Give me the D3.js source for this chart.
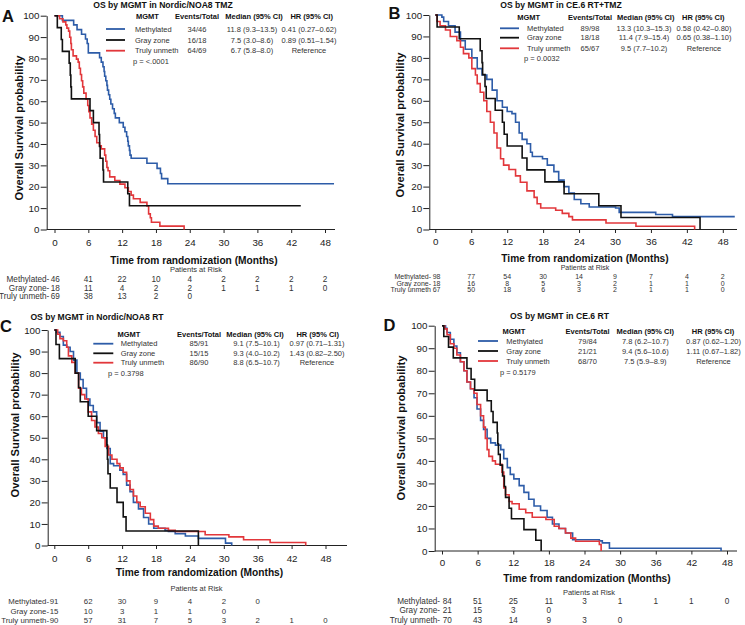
<!DOCTYPE html>
<html><head><meta charset="utf-8">
<script src="https://cdn.jsdelivr.net/npm/d3@7"></script>
<style>body{margin:0;background:#fff;} svg text{font-family:"Liberation Sans",Arial,Helvetica,sans-serif;}</style>
</head><body><svg id="c" width="745" height="625"></svg>
<script>
// ---------- DATA ----------
const months = [0,6,12,18,24,30,36,42,48];
const survTicks = [0,10,20,30,40,50,60,70,80,90,100];
const groups = ["Methylated","Gray zone","Truly unmeth"];

// Kaplan-Meier steps: [month, survival % after the step]
const A_meth = [[0,100],[1.4,97.8],[3.4,95.7],[4.0,93.5],[4.8,91.3],[5.5,89.1],[5.8,87],[6.0,82.6],[8.0,80.4],[8.3,78.3],[8.6,76.1],[8.8,73.9],[8.9,71.7],[9.1,69.6],[9.3,67.4],[9.4,65.2],[9.6,63],[9.8,60.9],[10.0,58.7],[10.3,56.5],[10.6,54.3],[10.8,52.2],[11.5,50],[12.2,47.8],[12.5,45.7],[12.8,43.5],[13.0,41.3],[13.1,39.1],[13.3,37],[13.4,34.8],[13.6,33.3],[16.4,31],[18.2,28.6],[18.8,26.2],[19.0,23.8],[20.1,21.4],[49.6,21.4]];
const A_gray = [[0,100],[0.5,94.4],[1.2,88.9],[1.4,83.3],[2.6,77.8],[2.8,72.2],[2.9,66.7],[3.0,61.1],[6.3,55.6],[6.9,50],[7.9,44.4],[8.0,38.9],[8.1,33.3],[8.6,27.8],[8.7,22.2],[13.0,16.7],[13.3,11.1],[43.7,11.1]];
const A_unmeth = [[0,100],[0.9,98.6],[1.5,97.1],[2.0,95.7],[2.2,94.2],[2.5,92.8],[2.7,89.9],[2.9,87],[3.0,84.1],[3.3,81.2],[3.9,79.7],[4.2,78.3],[4.4,75.4],[4.6,72.5],[4.8,69.6],[5.0,66.7],[5.2,63.8],[5.6,60.9],[5.9,58],[6.1,55.1],[6.3,52.2],[6.6,49.3],[6.9,46.4],[7.2,43.5],[7.5,40.6],[8.0,39.1],[8.3,37.7],[8.9,34.8],[9.1,31.9],[9.3,29],[9.5,27.5],[9.8,24.6],[10.7,22.9],[11.6,21.2],[12.5,19.5],[13.1,17.8],[13.6,16.1],[14.0,14.4],[15.2,12.7],[16.4,11],[16.7,7.3],[17.0,5.5],[17.2,3.4],[18.7,1.6],[23.0,0]];

const B_meth = [[0,100],[1.1,99],[1.4,97],[2.2,95],[3.3,92],[4.2,88],[5.0,84],[6.1,80],[7.0,75],[7.8,72],[8.6,70],[9.5,65],[10.3,60],[11.2,57],[12.0,55],[12.8,54],[13.4,50],[14.0,45],[14.5,42],[15.3,40],[15.9,36],[16.2,34],[17.9,33],[18.7,30],[19.8,27],[20.6,23],[21.5,20],[22.3,17],[23.2,14],[24.3,12],[25.7,10.5],[30.1,10],[30.7,8],[34.0,8],[36.8,7],[39.6,6],[50,6]];
const B_gray = [[0,100],[0.3,94.4],[4.0,88.9],[7.5,83.3],[7.8,77.8],[7.9,72.2],[8.3,66.7],[8.5,61.1],[10.0,55.6],[11.2,50],[11.5,44.4],[12.0,38.9],[14.5,33.3],[15.3,27.8],[18.3,22.2],[21.5,16.7],[27.3,11.1],[31.0,5.6],[44.2,0]];
const B_unmeth = [[0,100],[0.3,97],[0.8,95],[1.7,93],[2.5,90],[3.6,88],[4.2,85],[4.7,82],[5.6,80],[6.1,75],[6.7,72],[7.0,68],[7.5,64],[8.1,60],[8.6,55],[9.2,50],[9.8,45],[10.3,38],[10.9,33],[11.4,30],[12.3,28],[13.4,25],[14.2,22],[15.3,18],[16.5,15],[17.0,12],[17.6,10],[20.1,9],[21.2,7.5],[22.3,6],[22.9,4.5],[28.5,3],[33.5,1.5],[43.3,0]];

const C_meth = [[0,100],[0.4,98.9],[1.0,97],[1.6,93],[2.2,92],[2.8,90],[3.4,86],[4.0,80],[4.6,77],[5.1,73],[5.7,68],[6.3,65],[6.9,62],[7.5,57],[8.1,53],[8.7,50],[9.3,45],[9.9,38],[10.5,37],[11.6,35],[12.2,33],[12.8,28],[13.4,25],[14.0,20],[14.9,17],[15.8,13],[16.7,10],[17.6,8],[19.6,7],[20.2,6.5],[21.4,5.5],[23.2,4.4],[25.5,3.3],[30.3,1.1],[31.4,0]];
const C_gray = [[0,100],[0.3,93.3],[0.9,86.7],[3.7,80],[4.3,73.3],[4.6,66.7],[6.0,60],[7.5,53.3],[9.3,46.7],[9.4,40],[9.5,33.3],[9.9,26.7],[11.1,20],[12.2,13.3],[12.7,6.7],[25.5,0]];
const C_unmeth = [[0,100],[0.6,98],[1.0,96],[1.6,95],[2.2,92],[2.5,88],[3.1,85],[3.7,80],[4.3,73],[4.8,70],[5.4,68],[6.0,62],[6.6,58],[7.2,55],[7.8,52],[8.4,50],[9.0,46],[9.6,42],[10.2,40],[11.1,38],[11.6,36],[12.2,34],[12.8,30],[13.4,26],[14.0,23],[14.6,20],[15.2,18],[16.1,15],[17.0,12],[17.6,9],[18.4,8],[20.2,7],[21.4,6.5],[26.7,5],[30.9,4],[33.5,2.7],[38.2,1.4],[44.5,0]];

const D_meth = [[0,100],[0.6,98.8],[0.85,97],[1.4,94],[2.0,91],[2.5,88],[3.1,84],[3.7,80],[4.2,75],[4.8,72],[5.4,68],[5.9,63],[6.5,58],[7.0,54],[7.6,50],[8.2,48],[9.0,47],[9.9,45],[10.4,41],[11.0,37],[11.5,34],[12.1,32],[13.0,29],[13.8,26],[14.6,23],[15.5,20],[16.6,18],[17.7,15],[18.6,12],[19.7,10],[20.8,8],[22.0,5],[26.5,4.5],[27.0,3.6],[28.2,1.2],[47.0,1.2],[47.0,0]];
const D_gray = [[0,100],[0.3,95.2],[1.1,90.5],[1.9,85.7],[4.2,81],[4.9,76.2],[5.5,71.4],[7.6,66.7],[8.3,61.9],[8.6,57.1],[9.3,52.4],[9.4,47.6],[9.5,42.9],[9.8,38.1],[10.2,33.3],[10.5,28.6],[10.7,23.8],[11.3,19],[11.7,14.3],[13.8,9.5],[15.8,4.8],[16.7,0]];
const D_unmeth = [[0,100],[0.45,98.6],[0.85,96],[1.4,92],[2.0,90],[2.5,87],[3.1,84],[3.7,80],[4.2,75],[4.8,72],[5.4,70],[5.9,65],[6.5,60],[7.0,55],[7.3,50],[7.6,45],[7.9,42],[8.5,40],[9.0,38.5],[10.1,35],[10.4,28],[10.7,25],[11.3,22],[11.8,21],[13.0,18.5],[14.1,17],[15.2,15],[17.5,14],[18.9,11],[19.7,10],[20.8,8],[21.7,5.7],[22.5,4.3],[26.5,2.9],[26.8,0]];

// Legend tables
const A_events = ["34/46","16/18","64/69"];
const A_median = ["11.8 (9.3–13.5)","7.5 (3.0–8.6)","6.7 (5.8–8.0)"];
const A_hr = ["0.41 (0.27–0.62)","0.89 (0.51–1.54)","Reference"];
const B_events = ["89/98","18/18","65/67"];
const B_median = ["13.3 (10.3–15.3)","11.4 (7.9–15.4)","9.5 (7.7–10.2)"];
const B_hr = ["0.58 (0.42–0.80)","0.65 (0.38–1.10)","Reference"];
const C_events = ["85/91","15/15","86/90"];
const C_median = ["9.1 (7.5–10.1)","9.3 (4.0–10.2)","8.8 (6.5–10.7)"];
const C_hr = ["0.97 (0.71–1.31)","1.43 (0.82–2.50)","Reference"];
const D_events = ["79/84","21/21","68/70"];
const D_median = ["7.8 (6.2–10.7)","9.4 (5.6–10.6)","7.5 (5.9–8.9)"];
const D_hr = ["0.87 (0.62–1.20)","1.11 (0.67–1.82)","Reference"];

// Patients at risk at months 0,6,12,...
const A_risk = [[46,41,22,10,4,2,2,2,2],[18,11,4,2,2,1,1,1,0],[69,38,13,2,0]];
const B_risk = [[98,77,54,30,14,9,7,4,2],[18,16,8,5,3,2,1,1,0],[67,50,18,6,3,2,1,1,0]];
const C_risk = [[91,62,30,9,4,2,0],[15,10,3,1,1,0],[90,57,31,7,5,3,2,1,0]];
const D_risk = [[84,51,25,11,3,1,1,1,0],[21,15,3,0],[70,43,14,9,3,0]];

const A_riskLabels = ["Methylated-","Gray zone-","Truly unmeth-"];
const B_riskLabels = ["Methylated-","Gray zone-","Truly unmeth"];
const C_riskLabels = ["Methylated-","Gray zone-","Truly unmeth-"];
const D_riskLabels = ["Methylated-","Gray zone-","Truly unmeth-"];

// ---------- LAYOUT / STYLE ----------
const colors = ["#2d5ca8","#111111","#e2373b"];
const FONT = '"Liberation Sans",Arial,Helvetica,sans-serif';

const panels = [
 {letter:"A", title:"OS by MGMT in Nordic/NOA8 TMZ", p:"p = <.0001",
  curves:[A_meth,A_gray,A_unmeth], events:A_events, median:A_median, hr:A_hr, risk:A_risk, riskLabels:A_riskLabels,
  x0:54.5, x48:325, y0:229.5, y100:15.7, ax:46.7, xEnd:335,
  letterXY:[2,21.7], titleXY:[163,4.5], yLabelXY:[19,128], tickLabelY:243,
  xTitleXY:[194,260], parXY:[196,269], parFont:7.5, riskY:[279,288,296], riskLabelRight:49.3, riskFont:8.2, firstOff:0,
  lg:{headerY:16,rowY:[29,40,50.7],line:[106,125],labelX:135,mgmtX:147.5,eventsX:197,medianHX:254,medianX:252,hrHX:311.7,hrX:309,pXY:[133,61]}},
 {letter:"B", title:"OS by MGMT in CE.6 RT+TMZ", p:"p = 0.0032",
  curves:[B_meth,B_gray,B_unmeth], events:B_events, median:B_median, hr:B_hr, risk:B_risk, riskLabels:B_riskLabels,
  x0:435.3, x48:722.8, y0:229.5, y100:15, ax:429.3, xEnd:737,
  letterXY:[388.5,19.3], titleXY:[561,4.5], yLabelXY:[399.5,125], tickLabelY:242,
  xTitleXY:[585,258.5], parXY:[585,267], parFont:7, riskY:[276.5,283,289.5], riskLabelRight:431, riskFont:7, firstOff:0.5,
  lg:{headerY:17.3,rowY:[28.3,37.7,48.3],line:[500,519],labelX:527,mgmtX:528.7,eventsX:590,medianHX:645.7,medianX:644,hrHX:703.3,hrX:704,pXY:[524,58.3]}},
 {letter:"C", title:"OS by MGMT in Nordic/NOA8 RT", p:"p = 0.3798",
  curves:[C_meth,C_gray,C_unmeth], events:C_events, median:C_median, hr:C_hr, risk:C_risk, riskLabels:C_riskLabels,
  x0:54.3, x48:325.5, y0:545.5, y100:330, ax:47.7, xEnd:347,
  letterXY:[0,331.7], titleXY:[97,316.7], yLabelXY:[15,425], tickLabelY:559,
  xTitleXY:[199.5,572], parXY:[196.5,588], parFont:7.5, riskY:[601,611,620], riskLabelRight:49, riskFont:7.8, firstOff:-1,
  lg:{headerY:334,rowY:[343.7,353.3,362.7],line:[93.3,113.3],labelX:120.7,mgmtX:129,eventsX:199,medianHX:255,medianX:256.5,hrHX:317.7,hrX:317,pXY:[108,373.3]}},
 {letter:"D", title:"OS by MGMT in CE.6 RT", p:"p = 0.5179",
  curves:[D_meth,D_gray,D_unmeth], events:D_events, median:D_median, hr:D_hr, risk:D_risk, riskLabels:D_riskLabels,
  x0:442, x48:727, y0:551, y100:325.7, ax:434.7, xEnd:737,
  letterXY:[383.5,330.7], titleXY:[559.5,316], yLabelXY:[400.5,428], tickLabelY:563,
  xTitleXY:[587,578], parXY:[589,592], parFont:7.5, riskY:[601,610,620], riskLabelRight:440, riskFont:8.2, firstOff:4.5,
  lg:{headerY:331,rowY:[341,351,361],line:[478,498],labelX:506.3,mgmtX:514,eventsX:587.5,medianHX:645.3,medianX:645.3,hrHX:713,hrX:713.5,pXY:[500,372.3]}}
];

const svg = d3.select("#c");
svg.append("rect").attr("width",745).attr("height",625).attr("fill","#fff");

function drawPanel(P){
  const g = svg.append("g");
  const x = d3.scaleLinear().domain([0,48]).range([P.x0,P.x48]);
  const y = d3.scaleLinear().domain([0,100]).range([P.y0,P.y100]);

  // y axis
  const ya = g.append("g").attr("transform",`translate(${P.ax},0)`)
    .call(d3.axisLeft(y).tickValues(survTicks).tickSize(6).tickSizeOuter(0).tickPadding(1.2));
  ya.select(".domain").attr("stroke","#222");
  ya.selectAll(".tick line").attr("stroke","#222");
  ya.selectAll("text").attr("font-family",FONT).attr("font-size",9.8).attr("fill","#222");

  // x axis
  const xa = g.append("g").attr("transform",`translate(0,${P.y0})`)
    .call(d3.axisBottom(x).tickValues(months).tickSize(3.5).tickSizeOuter(0).tickPadding(P.tickLabelY-3.5-P.y0-3.5));
  xa.select(".domain").remove();
  xa.append("line").attr("x1",P.ax).attr("x2",P.xEnd).attr("y1",0).attr("y2",0).attr("stroke","#222");
  xa.selectAll(".tick line").attr("stroke","#222");
  xa.selectAll("text").attr("font-family",FONT).attr("font-size",9.8).attr("fill","#222");

  // curves
  const line = d3.line().x(d=>x(d[0])).y(d=>y(d[1])).curve(d3.curveStepAfter);
  [0,2,1].forEach(i=>{
    g.append("path").attr("d",line(P.curves[i])).attr("fill","none")
     .attr("stroke",colors[i]).attr("stroke-width",1.6).attr("stroke-linejoin","miter");
  });

  // letter & title
  g.append("text").attr("x",P.letterXY[0]).attr("y",P.letterXY[1]).text(P.letter)
   .attr("font-family",FONT).attr("font-weight","bold").attr("font-size",16.5).attr("fill","#111");
  g.append("text").attr("x",P.titleXY[0]).attr("y",P.titleXY[1]).text(P.title)
   .attr("text-anchor","middle").attr("dominant-baseline","central")
   .attr("font-family",FONT).attr("font-weight","bold").attr("font-size",8.6).attr("fill","#111");

  // y label
  g.append("text").attr("transform",`translate(${P.yLabelXY[0]},${P.yLabelXY[1]}) rotate(-90)`)
   .text("Overall Survival probability").attr("text-anchor","middle").attr("dominant-baseline","central")
   .attr("font-family",FONT).attr("font-weight","bold").attr("font-size",11.2).attr("fill","#111");

  // x title
  g.append("text").attr("x",P.xTitleXY[0]).attr("y",P.xTitleXY[1]).text("Time from randomization (Months)")
   .attr("text-anchor","middle").attr("dominant-baseline","central")
   .attr("font-family",FONT).attr("font-weight","bold").attr("font-size",10.2).attr("fill","#111");

  // legend table
  const L = P.lg, lf = 7.5;
  const hdr = [["MGMT",L.mgmtX],["Events/Total",L.eventsX],["Median (95% CI)",L.medianHX],["HR (95% CI)",L.hrHX]];
  hdr.forEach(h=>{
    g.append("text").attr("x",h[1]).attr("y",L.headerY).text(h[0]).attr("text-anchor","middle")
     .attr("dominant-baseline","central").attr("font-family",FONT).attr("font-weight","bold")
     .attr("font-size",lf).attr("fill","#111");
  });
  groups.forEach((gname,i)=>{
    const ry = L.rowY[i];
    g.append("line").attr("x1",L.line[0]).attr("x2",L.line[1]).attr("y1",ry).attr("y2",ry)
     .attr("stroke",colors[i]).attr("stroke-width",1.8);
    const cells = [[gname,L.labelX,"start"],[P.events[i],L.eventsX,"middle"],[P.median[i],L.medianX,"middle"],[P.hr[i],L.hrX,"middle"]];
    cells.forEach(c=>{
      g.append("text").attr("x",c[1]).attr("y",ry).text(c[0]).attr("text-anchor",c[2])
       .attr("dominant-baseline","central").attr("font-family",FONT).attr("font-size",lf).attr("fill","#333");
    });
  });
  g.append("text").attr("x",L.pXY[0]).attr("y",L.pXY[1]).text(P.p).attr("dominant-baseline","central")
   .attr("font-family",FONT).attr("font-size",lf).attr("fill","#333");

  // patients at risk
  g.append("text").attr("x",P.parXY[0]).attr("y",P.parXY[1]).text("Patients at Risk")
   .attr("text-anchor","middle").attr("dominant-baseline","central")
   .attr("font-family",FONT).attr("font-size",P.parFont).attr("fill","#333");
  P.risk.forEach((row,i)=>{
    const ry = P.riskY[i];
    g.append("text").attr("x",P.riskLabelRight).attr("y",ry).text(P.riskLabels[i])
     .attr("text-anchor","end").attr("dominant-baseline","central")
     .attr("font-family",FONT).attr("font-size",P.riskFont).attr("fill","#333");
    g.selectAll(null).data(row).enter().append("text")
     .attr("x",(d,j)=>x(months[j]) + (j===0?P.firstOff:0)).attr("y",ry).text(d=>d)
     .attr("text-anchor",(d,j)=>j===0?"start":"middle").attr("dx",(d,j)=>j===0?"-0.45em":0)
     .attr("dominant-baseline","central")
     .attr("font-family",FONT).attr("font-size",P.riskFont).attr("fill","#333");
  });
}
panels.forEach(drawPanel);
</script>
</body></html>
